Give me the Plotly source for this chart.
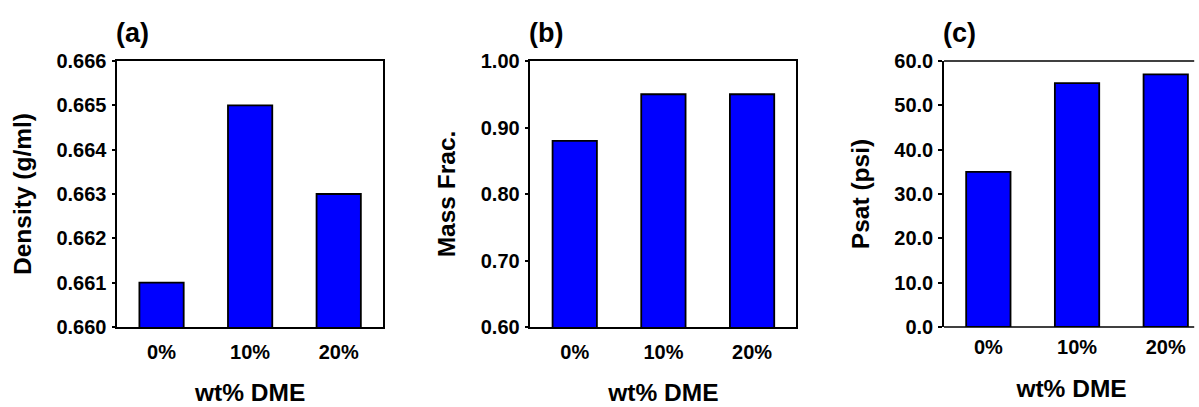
import plotly.graph_objects as go

categories = ["0%", "10%", "20%"]
density = [0.661, 0.665, 0.663]
mass_frac = [0.88, 0.95, 0.95]
psat = [35, 55, 57]

panel_labels = ["(a)", "(b)", "(c)"]
y_titles = ["Density (g/ml)", "Mass Frac.", "Psat (psi)"]
x_title = "wt% DME"
y_ranges = [[0.660, 0.666], [0.60, 1.00], [0.0, 60.0]]
y_dticks = [0.001, 0.10, 10.0]
y_formats = [".3f", ".2f", ".1f"]

W, H = 1199, 407
FONT = "Liberation Sans, Arial, sans-serif"

# pixel geometry of panels (left, right)
px_domains = [(117.25, 383.0), (530.4, 796.4), (944.0, 1199.0)]
x_ranges = [[-0.5, 2.5], [-0.5, 2.5], [-0.5, 2.375]]

fig = go.Figure()
series = [density, mass_frac, psat]
for i, vals in enumerate(series):
    xa = "x" if i == 0 else f"x{i+1}"
    ya = "y" if i == 0 else f"y{i+1}"
    fig.add_trace(go.Bar(
        x=categories, y=vals, xaxis=xa, yaxis=ya, width=0.5,
        marker=dict(color="#0000ff", line=dict(color="black", width=1.8)),
        showlegend=False, hoverinfo="x+y",
    ))

layout = dict(
    width=W, height=H,
    margin=dict(l=0, r=0, t=61, b=80, pad=0),
    plot_bgcolor="white", paper_bgcolor="white",
    font=dict(family=FONT, size=20, color="black", weight="bold"),
    showlegend=False,
)
annotations = []
for i in range(3):
    sx = "" if i == 0 else str(i + 1)
    l, r = px_domains[i]
    layout[f"xaxis{sx}"] = dict(
        domain=[l / W, r / W], anchor=f"y{sx}", type="category",
        range=x_ranges[i],
        showline=(i != 2), linecolor="black", linewidth=1.5,
        mirror=(i != 2), ticks="", showgrid=False, zeroline=False,
        tickfont=dict(family=FONT, size=20, color="black", weight="bold"),
        ticklabelstandoff=6,
        title=dict(text=x_title, standoff=22,
                   font=dict(family=FONT, size=24.5, color="black", weight="bold")),
    )
    layout[f"yaxis{sx}"] = dict(
        domain=[0, 1], anchor=f"x{sx}",
        range=y_ranges[i], dtick=y_dticks[i], tick0=y_ranges[i][0],
        tickformat=y_formats[i],
        showline=True, linecolor="black", linewidth=1.5,
        mirror=(i != 2), ticks="outside", ticklen=4, tickwidth=1.5,
        tickcolor="black",
        showgrid=False, zeroline=False,
        tickfont=dict(family=FONT, size=20, color="black", weight="bold"),
        ticklabelstandoff=1,
        title=dict(text=y_titles[i], standoff=18,
                   font=dict(family=FONT, size=24.5, color="black", weight="bold")),
    )
    annotations.append(dict(
        text=panel_labels[i], xref="paper", yref="paper",
        x=(l - 3) / W, y=1 + (61 - 33) / 266, xanchor="left", yanchor="middle",
        showarrow=False,
        font=dict(family=FONT, size=27, color="black", weight="bold"),
    ))
layout["annotations"] = annotations
edge = dict(color="black", width=1.5)
# top and bottom frame lines of panel (c), which runs off the right edge
layout["shapes"] = [
    dict(type="line", xref="paper", yref="y3 domain",
         x0=px_domains[2][0] / W, x1=0.996, y0=0, y1=0, line=edge),
    dict(type="line", xref="paper", yref="y3 domain",
         x0=px_domains[2][0] / W, x1=0.996, y0=1, y1=1, line=edge),
]
fig.update_layout(**layout)
fig.write_html("out.html")
